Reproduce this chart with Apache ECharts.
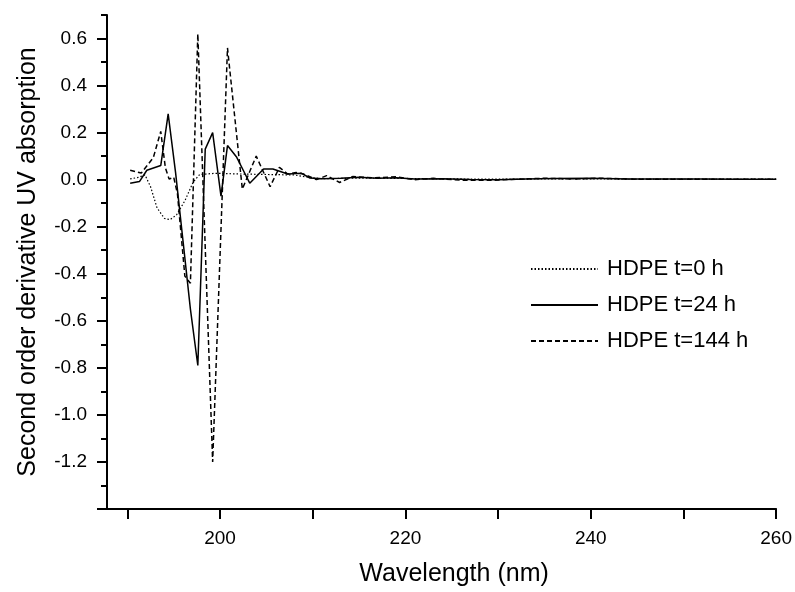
<!DOCTYPE html>
<html lang="en">
<head>
    <meta charset="utf-8">
    <title>HDPE second derivative UV</title>
    <script src="https://cdn.jsdelivr.net/npm/echarts@6/dist/echarts.min.js"></script>
    <style>
        html, body { margin: 0; padding: 0; background: #fff; }
        #main { width: 795px; height: 592px; }
    </style>
</head>
<body>
<div id="main"></div>

<script>
    // wavelength (nm) / second derivative values
    var t0Wl  = [190.3, 191.2, 191.9, 192.5, 193.2, 194.0, 194.6, 195.3, 196.2, 197.1, 197.8, 199.5, 202.3, 205.0, 208.0, 209.5, 211.0, 214.0, 218.0, 222.0, 226.0, 230.0, 235.0, 240.0, 250.0, 260.0];
    var t0Val = [0.003, 0.01, 0.02, -0.03, -0.12, -0.165, -0.17, -0.15, -0.09, -0.01, 0.022, 0.027, 0.024, 0.022, 0.02, 0.01, 0.004, 0.006, 0.006, 0.004, 0.003, 0.002, 0.003, 0.003, 0.002, 0.002];

    var t24Wl  = [190.3, 191.3, 192.1, 193.6, 194.4, 195.2, 196.0, 196.8, 197.6, 198.4, 199.2, 200.1, 200.8, 201.8, 202.5, 203.2, 204.7, 205.7, 207.3, 208.8, 209.7, 211.0, 213.0, 215.0, 217.0, 219.0, 221.0, 224.0, 227.0, 230.0, 233.0, 236.0, 240.0, 244.0, 248.0, 252.0, 256.0, 260.0];
    var t24Val = [-0.015, -0.008, 0.04, 0.06, 0.28, 0.03, -0.26, -0.55, -0.79, 0.13, 0.2, -0.07, 0.145, 0.095, 0.04, -0.015, 0.045, 0.045, 0.024, 0.027, 0.007, 0.004, 0.006, 0.01, 0.006, 0.008, 0.003, 0.004, 0.001, 0.0, 0.003, 0.005, 0.006, 0.003, 0.003, 0.003, 0.002, 0.002];

    var t144Wl  = [190.3, 191.5, 192.8, 193.6, 194.1, 194.5, 195.0, 195.4, 196.2, 196.8, 197.6, 199.2, 200.8, 202.4, 203.9, 205.4, 206.4, 207.3, 208.2, 209.0, 210.4, 211.5, 212.9, 214.3, 216.5, 219.0, 221.0, 223.0, 226.0, 229.0, 232.0, 235.0, 238.0, 241.0, 245.0, 250.0, 255.0, 260.0];
    var t144Val = [0.04, 0.028, 0.094, 0.205, 0.05, 0.003, 0.01, -0.06, -0.41, -0.44, 0.62, -1.2, 0.56, -0.04, 0.1, -0.03, 0.052, 0.024, 0.03, 0.024, 0.0, 0.017, -0.012, 0.013, 0.008, 0.012, 0.0, 0.006, -0.002, -0.003, 0.002, 0.006, 0.003, 0.006, 0.002, 0.002, 0.002, 0.002];

    var seriesNames = ['HDPE t=0 h', 'HDPE t=24 h', 'HDPE t=144 h'];

    var xTicks = [190, 200, 210, 220, 230, 240, 250, 260];
    var xTickLabels = [200, 220, 240, 260];
    var yMajorTicks = [-1.4, -1.2, -1.0, -0.8, -0.6, -0.4, -0.2, 0.0, 0.2, 0.4, 0.6];
    var yMinorTicks = [-1.3, -1.1, -0.9, -0.7, -0.5, -0.3, -0.1, 0.1, 0.3, 0.5, 0.7];
    var yTickLabels = [-1.2, -1.0, -0.8, -0.6, -0.4, -0.2, 0.0, 0.2, 0.4, 0.6];

    function pairs(xs, ys) {
        var out = [];
        for (var i = 0; i < xs.length; i++) {
            out.push([xs[i], ys[i]]);
        }
        return out;
    }

    var chartDom = document.getElementById('main');
    var myChart = echarts.init(chartDom);
    var font = 'Liberation Sans, Arial, sans-serif';

    var option = {
        animation: false,
        textStyle: { fontFamily: font, color: '#000' },
        grid: { left: 107, right: 17, top: 15, bottom: 80 },
        legend: {
            data: seriesNames,
            orient: 'vertical',
            left: 525,
            top: 253,
            itemWidth: 67,
            itemHeight: 14,
            itemGap: 14,
            selectedMode: false,
            itemStyle: { opacity: 0 },
            textStyle: { fontSize: 22, color: '#000', fontFamily: font, padding: [0, 0, 0, 4] }
        },
        xAxis: {
            type: 'value',
            min: 187.8,
            max: 260,
            name: 'Wavelength (nm)',
            nameLocation: 'middle',
            nameGap: 53,
            nameTextStyle: { fontSize: 25, color: '#000', fontFamily: font, padding: [0, 0, 0, 25] },
            axisLine: { show: true, onZero: false, lineStyle: { color: '#000', width: 2 } },
            axisTick: { show: true, customValues: xTicks, length: 10, lineStyle: { color: '#000', width: 2 } },
            axisLabel: { customValues: xTickLabels, margin: 20, fontSize: 19, color: '#000', fontFamily: font },
            splitLine: { show: false }
        },
        yAxis: [
            {
                type: 'value',
                position: 'left',
                min: -1.4,
                max: 0.7,
                name: 'Second order derivative UV absorption',
                nameLocation: 'middle',
                nameGap: 66,
                nameTextStyle: { fontSize: 25, color: '#000', fontFamily: font },
                axisLine: { show: true, onZero: false, lineStyle: { color: '#000', width: 2 } },
                axisTick: { show: true, customValues: yMajorTicks, length: 10, lineStyle: { color: '#000', width: 2 } },
                axisLabel: {
                    customValues: yTickLabels, margin: 20, fontSize: 19, color: '#000', fontFamily: font,
                    formatter: function (v) { return v.toFixed(1); }
                },
                splitLine: { show: false }
            },
            {
                // short minor ticks
                type: 'value',
                position: 'left',
                offset: 0,
                min: -1.4,
                max: 0.7,
                axisLine: { show: false },
                axisTick: { show: true, customValues: yMinorTicks, length: 6, lineStyle: { color: '#000', width: 2 } },
                axisLabel: { show: false },
                splitLine: { show: false }
            }
        ],
        series: [
            {
                name: seriesNames[0],
                type: 'line',
                symbol: 'none',
                data: pairs(t0Wl, t0Val),
                lineStyle: { color: '#000', width: 1.2, type: [1.5, 2] },
                itemStyle: { color: '#000' }
            },
            {
                name: seriesNames[1],
                type: 'line',
                symbol: 'none',
                data: pairs(t24Wl, t24Val),
                lineStyle: { color: '#000', width: 1.5, type: 'solid' },
                itemStyle: { color: '#000' }
            },
            {
                name: seriesNames[2],
                type: 'line',
                symbol: 'none',
                data: pairs(t144Wl, t144Val),
                lineStyle: { color: '#000', width: 1.5, type: [5, 3] },
                itemStyle: { color: '#000' }
            }
        ]
    };
    myChart.setOption(option);
</script>
</body>
</html>
